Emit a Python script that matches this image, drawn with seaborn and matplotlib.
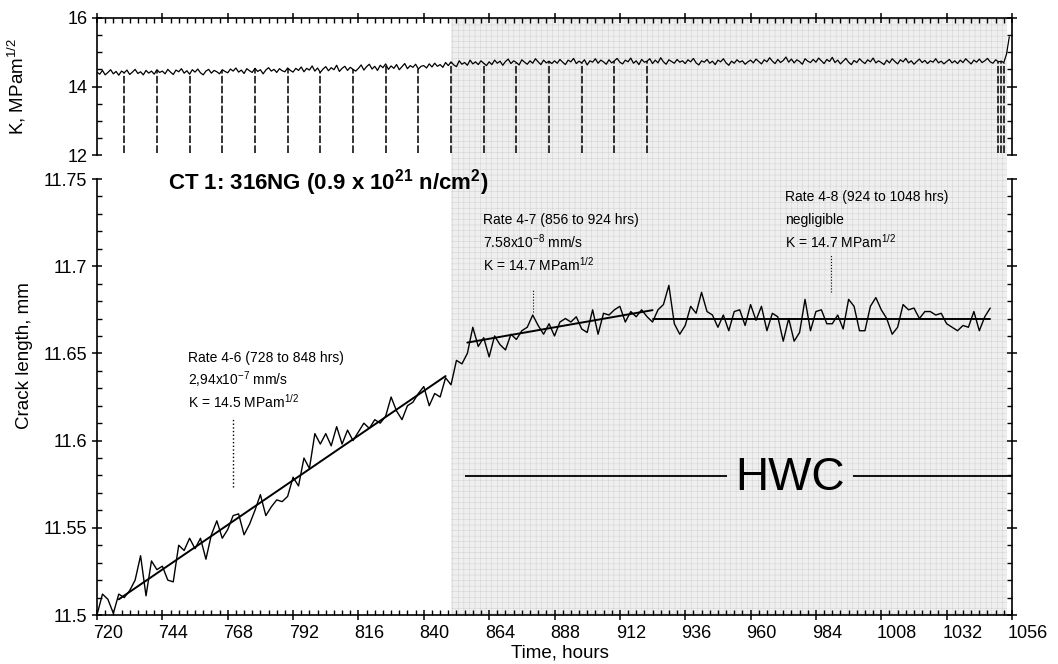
import numpy as np
import matplotlib
matplotlib.use('Agg')
import matplotlib.pyplot as plt
import matplotlib.transforms as mtransforms
from matplotlib.patches import Rectangle
from matplotlib.ticker import MultipleLocator, FormatStrFormatter
import seaborn as sns

sns.set_style('ticks')
plt.rcParams['font.family'] = ['Liberation Sans', 'DejaVu Sans']
plt.rcParams['mathtext.fontset'] = 'custom'
plt.rcParams['mathtext.rm'] = 'Liberation Sans'
plt.rcParams['mathtext.it'] = 'Liberation Sans:italic'
plt.rcParams['mathtext.bf'] = 'Liberation Sans:bold'
plt.rcParams['hatch.linewidth'] = 0.3
for key in ('text.color', 'axes.labelcolor', 'xtick.color', 'ytick.color', 'axes.edgecolor'):
    plt.rcParams[key] = 'black'

# crack length, mm, every 2 hours from 720 h
crack_len = [
    11.500, 11.512, 11.509, 11.501, 11.512, 11.510, 11.514, 11.520, 11.534, 11.511, 11.531, 11.526,
    11.528, 11.520, 11.519, 11.540, 11.537, 11.544, 11.538, 11.544, 11.532, 11.546, 11.554, 11.544,
    11.549, 11.557, 11.558, 11.546, 11.552, 11.560, 11.569, 11.557, 11.562, 11.566, 11.565, 11.568,
    11.579, 11.574, 11.590, 11.584, 11.604, 11.598, 11.604, 11.597, 11.608, 11.598, 11.606, 11.600,
    11.605, 11.610, 11.607, 11.612, 11.610, 11.614, 11.625, 11.617, 11.612, 11.620, 11.622, 11.627,
    11.631, 11.620, 11.627, 11.625, 11.636, 11.632, 11.646, 11.644, 11.650, 11.665, 11.654, 11.659,
    11.648, 11.660, 11.655, 11.652, 11.661, 11.658, 11.663, 11.665, 11.672, 11.666, 11.661, 11.667,
    11.660, 11.668, 11.670, 11.668, 11.671, 11.664, 11.662, 11.675, 11.661, 11.673, 11.672, 11.675,
    11.677, 11.668, 11.674, 11.671, 11.675, 11.671, 11.668, 11.675, 11.678, 11.689, 11.667, 11.661,
    11.666, 11.677, 11.673, 11.685, 11.674, 11.672, 11.665, 11.672, 11.663, 11.674, 11.675, 11.666,
    11.678, 11.669, 11.677, 11.663, 11.673, 11.671, 11.657, 11.670, 11.657, 11.662, 11.681, 11.663,
    11.674, 11.675, 11.667, 11.667, 11.672, 11.664, 11.681, 11.677, 11.663, 11.663, 11.677, 11.682,
    11.675, 11.670, 11.661, 11.665, 11.678, 11.675, 11.676, 11.670, 11.674, 11.674, 11.672, 11.673,
    11.667, 11.665, 11.663, 11.666, 11.665, 11.674, 11.663, 11.671, 11.676,
]
crack_t = np.arange(720, 720 + 2 * len(crack_len), 2)

# K, MPa m^1/2, every hour from 720 h
k_vals = [
    14.42, 14.36, 14.47, 14.34, 14.41, 14.49, 14.37, 14.44, 14.33, 14.45, 14.40, 14.48, 14.35, 14.42, 14.50, 14.38, 14.43, 14.34, 14.47, 14.39, 14.45, 14.36, 14.49, 14.41,
    14.45, 14.37, 14.50, 14.42, 14.35, 14.48, 14.43, 14.52, 14.39, 14.46, 14.36, 14.49, 14.42, 14.51, 14.40, 14.34, 14.45, 14.50, 14.39, 14.47, 14.43, 14.37, 14.49, 14.44,
    14.40, 14.51, 14.45, 14.54, 14.42, 14.48, 14.38, 14.52, 14.46, 14.41, 14.53, 14.44, 14.49, 14.37, 14.48, 14.55, 14.45, 14.50, 14.41, 14.52, 14.46, 14.43, 14.54, 14.47,
    14.42, 14.53, 14.47, 14.57, 14.43, 14.53, 14.48, 14.60, 14.45, 14.54, 14.41, 14.51, 14.58, 14.46, 14.55, 14.49, 14.62, 14.44, 14.53, 14.59, 14.47, 14.56, 14.50, 14.45,
    14.53, 14.63, 14.48, 14.58, 14.65, 14.51, 14.59, 14.47, 14.62, 14.55, 14.66, 14.50, 14.60, 14.53, 14.64, 14.49, 14.58, 14.67, 14.52, 14.61, 14.56, 14.65, 14.51, 14.59,
    14.61, 14.54, 14.66, 14.57, 14.68, 14.59, 14.64, 14.56, 14.70, 14.61, 14.72, 14.63, 14.58, 14.75, 14.65, 14.70, 14.62, 14.77, 14.66, 14.72, 14.64, 14.75, 14.68, 14.61,
    14.72, 14.64, 14.77, 14.68, 14.74, 14.62, 14.73, 14.80, 14.67, 14.75, 14.70, 14.63, 14.78, 14.71, 14.65, 14.75, 14.68, 14.81, 14.72, 14.64, 14.77, 14.69, 14.74, 14.67,
    14.75, 14.68, 14.79, 14.71, 14.64, 14.77, 14.72, 14.82, 14.67, 14.74, 14.69, 14.78, 14.63, 14.75, 14.71, 14.81, 14.68, 14.77, 14.72, 14.65, 14.78, 14.69, 14.75, 14.82,
    14.71, 14.66, 14.77, 14.72, 14.83, 14.68, 14.75, 14.64, 14.79, 14.71, 14.74, 14.81, 14.67, 14.77, 14.69, 14.84, 14.72, 14.65, 14.78, 14.73, 14.68, 14.79, 14.71, 14.75,
    14.67, 14.78, 14.72, 14.82, 14.69, 14.63, 14.75, 14.71, 14.79, 14.68, 14.74, 14.64, 14.77, 14.72, 14.81, 14.69, 14.62, 14.74, 14.68, 14.78, 14.71, 14.75, 14.65, 14.72,
    14.77, 14.69, 14.80, 14.73, 14.66, 14.78, 14.72, 14.84, 14.74, 14.67, 14.79, 14.70, 14.76, 14.86, 14.71, 14.80, 14.69, 14.78, 14.73, 14.65, 14.81, 14.74, 14.70, 14.79,
    14.71, 14.83, 14.75, 14.67, 14.79, 14.73, 14.85, 14.70, 14.77, 14.66, 14.74, 14.82, 14.71, 14.64, 14.76, 14.70, 14.81, 14.73, 14.67, 14.78, 14.72, 14.83, 14.69, 14.75,
    14.70, 14.64, 14.77, 14.69, 14.81, 14.73, 14.66, 14.78, 14.72, 14.82, 14.69, 14.75, 14.65, 14.73, 14.80, 14.70, 14.76, 14.67, 14.75, 14.71, 14.81, 14.69, 14.74, 14.66,
    14.73, 14.79, 14.69, 14.75, 14.67, 14.77, 14.70, 14.81, 14.73, 14.66, 14.77, 14.71, 14.80, 14.70, 14.75, 14.82, 14.72, 14.68, 14.78, 14.72, 14.74, 14.70, 14.95, 15.45,
]
k_t = np.arange(720, 720 + len(k_vals))

# unloading dips in K (hours)
dip_t = [730, 742, 754, 766, 778, 790, 802, 814, 826, 838, 850, 862, 874, 886, 898, 910, 922,
         1051, 1052, 1053]

# fitted rates
fit1_t, fit1_v = [728, 848], [11.509, 11.637]
fit2_t, fit2_v = [856, 924], [11.6562, 11.6748]
fit3_t, fit3_v = [924, 1048], [11.6698, 11.6698]

hwc_span = (850, 1054)

fig = plt.figure(figsize=(10.58, 6.64), dpi=100)
L, W = 97 / 1058, 915 / 1058
ax1 = fig.add_axes([L, 1 - 155 / 664, W, 137 / 664])
ax2 = fig.add_axes([L, 1 - 615 / 664, W, 436 / 664])
for ax in (ax1, ax2):
    ax.set_facecolor('none')

# shaded HWC period across both panels
trans = mtransforms.blended_transform_factory(ax2.transData, fig.transFigure)
y0, y1 = 1 - 615 / 664, 1 - 18 / 664
fig.add_artist(Rectangle((hwc_span[0], y0), hwc_span[1] - hwc_span[0], y1 - y0,
                         transform=trans, facecolor='#efefef', edgecolor='#cdcdcd',
                         hatch='+++', linewidth=0, zorder=-1))

# --- top panel: K ---
sns.lineplot(x=k_t, y=k_vals, ax=ax1, color='k', lw=0.9, estimator=None)
k_at_dip = np.interp(dip_t, k_t, k_vals)
ax1.vlines(dip_t, 12.05, k_at_dip, colors='k', linestyles=(0, (5, 1.5)), lw=1.1)
ax1.set_xlim(720, 1056)
ax1.set_ylim(12, 16)
ax1.spines['bottom'].set_visible(False)
ax1.xaxis.set_major_locator(MultipleLocator(24))
ax1.xaxis.set_minor_locator(MultipleLocator(3))
ax1.yaxis.set_major_locator(MultipleLocator(2))
ax1.yaxis.set_minor_locator(MultipleLocator(0.5))
ax1.tick_params(axis='x', which='both', bottom=False, top=True, labelbottom=False)
ax1.tick_params(axis='y', which='both', left=True, right=True, labelsize=13)
ax1.tick_params(which='major', direction='inout', length=7, width=1.1)
ax1.tick_params(which='minor', direction='in', length=3.5, width=1)
ax1.set_xlabel('')
ax1.set_ylabel('K, MPam$^{1/2}$', fontsize=13.5)
ax1.yaxis.set_label_coords(-0.075, 0.5)

# --- bottom panel: crack length ---
sns.lineplot(x=crack_t, y=crack_len, ax=ax2, color='k', lw=1.0, estimator=None)
for ft, fv in ((fit1_t, fit1_v), (fit2_t, fit2_v), (fit3_t, fit3_v)):
    sns.lineplot(x=ft, y=fv, ax=ax2, color='k', lw=1.4, estimator=None)
ax2.set_xlim(720, 1056)
ax2.set_ylim(11.5, 11.75)
ax2.spines['top'].set_visible(False)
ax2.xaxis.set_major_locator(MultipleLocator(24))
ax2.xaxis.set_minor_locator(MultipleLocator(3))
ax2.yaxis.set_major_locator(MultipleLocator(0.05))
ax2.yaxis.set_minor_locator(MultipleLocator(0.01))
ax2.yaxis.set_major_formatter(FormatStrFormatter('%g'))
ax2.tick_params(axis='y', which='both', left=True, right=True)
ax2.tick_params(which='major', direction='inout', length=7, width=1.1, labelsize=13)
ax2.tick_params(which='minor', direction='in', length=3.5, width=1)
for sp in ('left', 'right', 'bottom'):
    ax2.spines[sp].set_linewidth(1.2)
for sp in ('left', 'right', 'top'):
    ax1.spines[sp].set_linewidth(1.2)
ax2.set_xlabel('Time, hours', fontsize=13.5)
ax2.set_ylabel('Crack length, mm', fontsize=13.5)
ax2.xaxis.set_label_coords(0.506, -0.068)
ax2.yaxis.set_label_coords(-0.07, 0.594)

shift = mtransforms.ScaledTranslation(-3 / 72, 0, fig.dpi_scale_trans)
for lab in ax2.get_xticklabels():
    lab.set_horizontalalignment('left')
    lab.set_transform(lab.get_transform() + shift)

# annotations
fs = 10
ax2.text(753.4, 11.6474, 'Rate 4-6 (728 to 848 hrs)', fontsize=fs, va='center')
ax2.text(753.4, 11.6347, '2,94x10$^{-7}$ mm/s', fontsize=fs, va='center')
ax2.text(753.4, 11.6221, 'K = 14.5 MPam$^{1/2}$', fontsize=fs, va='center')
ax2.vlines(770, 11.5734, 11.6135, colors='k', linestyles=':', lw=1)

ax2.text(861.8, 11.7265, 'Rate 4-7 (856 to 924 hrs)', fontsize=fs, va='center')
ax2.text(861.8, 11.714, '7.58x10$^{-8}$ mm/s', fontsize=fs, va='center')
ax2.text(861.8, 11.7007, 'K = 14.7 MPam$^{1/2}$', fontsize=fs, va='center')
ax2.vlines(880, 11.6735, 11.6864, colors='k', linestyles=':', lw=0.8)

ax2.text(972.7, 11.7399, 'Rate 4-8 (924 to 1048 hrs)', fontsize=fs, va='center')
ax2.text(972.7, 11.7265, 'negligible', fontsize=fs, va='center')
ax2.text(972.7, 11.714, 'K = 14.7 MPam$^{1/2}$', fontsize=fs, va='center')
ax2.vlines(989.5, 11.6854, 11.7064, colors='k', linestyles=':', lw=0.8)

# HWC marker
ax2.hlines(11.5797, 855, 951.5, colors='k', lw=1.3)
ax2.hlines(11.5797, 997.5, 1056, colors='k', lw=1.3)
ax2.text(974.5, 11.5785, 'HWC', fontsize=33, ha='center', va='center')

fig.text(168 / 1058, 1 - 183 / 664,
         r'CT 1: 316NG (0.9 x 10$^{\mathbf{21}}$ n/cm$^{\mathbf{2}}$)',
         fontsize=16, fontweight='bold', va='center', ha='left')

fig.savefig('out.png', dpi=100)
